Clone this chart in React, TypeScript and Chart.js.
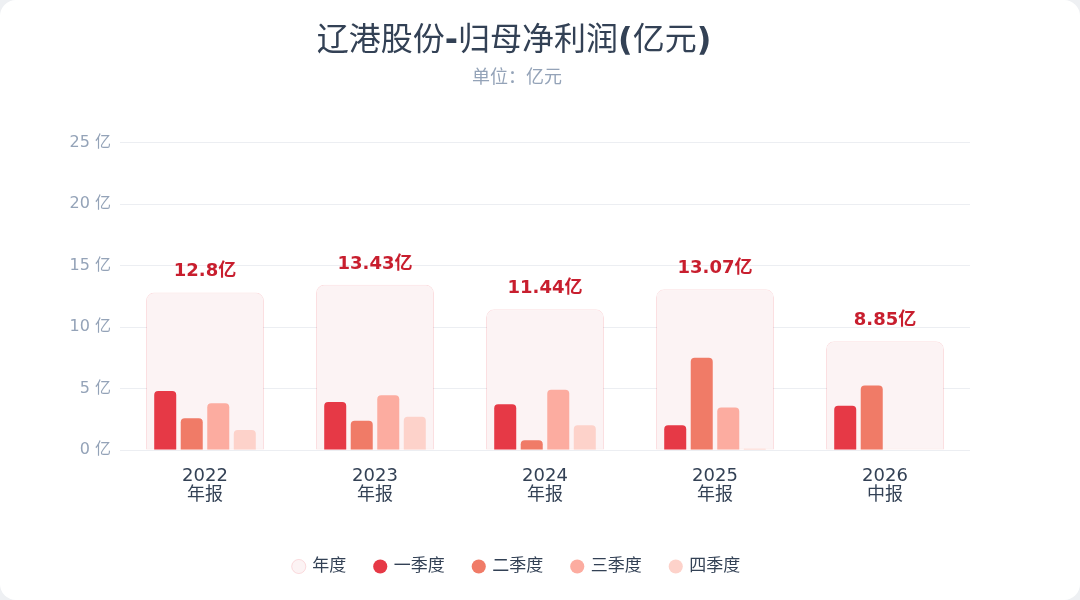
import { useRef, useEffect } from "react";
import Chart from "chart.js/auto";
import type { Chart as ChartJS, Plugin } from "chart.js";

const categories = [["2022", "年报"], ["2023", "年报"], ["2024", "年报"], ["2025", "年报"], ["2026", "中报"]];
const annual = [12.8, 13.43, 11.44, 13.07, 8.85];
const q1 = [4.8, 3.9, 3.72, 2.02, 3.6];
const q2 = [2.58, 2.38, 0.8, 7.5, 5.25];
const q3 = [3.8, 4.45, 4.9, 3.45, null];
const q4 = [1.62, 2.7, 2.02, 0.1, null];
const yTicks = [0, 5, 10, 15, 20, 25];

const FONT = "'DejaVu Sans', 'Noto Sans CJK SC', sans-serif";

// title pieces: latin punctuation is heavier than the CJK glyphs in the original
const titleParts: [string, boolean][] = [
  ["辽港股份", false],
  ["-", true],
  ["归母净利润", false],
  ["(", true],
  ["亿元", false],
  [")", true],
];

const titleDraw: Plugin<"bar"> = {
  id: "titleDraw",
  afterDraw(chart) {
    const ctx = chart.ctx;
    ctx.save();
    ctx.fillStyle = "#334155";
    ctx.textBaseline = "middle";
    ctx.textAlign = "left";
    const fontOf = (bold: boolean) => `${bold ? "bold" : "normal"} 32px ${FONT}`;
    let total = 0;
    titleParts.forEach(([t, b]) => {
      ctx.font = fontOf(b);
      total += ctx.measureText(t).width;
    });
    let x = 514 - total / 2;
    titleParts.forEach(([t, b]) => {
      ctx.font = fontOf(b);
      ctx.fillText(t, x, 42);
      x += ctx.measureText(t).width;
    });
    ctx.restore();
  },
};

const valueLabels: Plugin<"bar"> = {
  id: "valueLabels",
  afterDatasetsDraw(chart) {
    const meta = chart.getDatasetMeta(0);
    const ctx = chart.ctx;
    ctx.save();
    ctx.font = `bold 18px ${FONT}`;
    ctx.fillStyle = "#c81e2e";
    ctx.textAlign = "center";
    ctx.textBaseline = "middle";
    meta.data.forEach((el, i) => {
      ctx.fillText(`${annual[i]}亿`, el.x, el.y - 21);
    });
    ctx.restore();
  },
};

export default function App() {
  const canvasRef = useRef<HTMLCanvasElement | null>(null);
  const chartInstance = useRef<ChartJS | null>(null);

  useEffect(() => {
    if (!canvasRef.current) return;
    if (chartInstance.current) chartInstance.current.destroy();

    const quarter = (label: string, data: (number | null)[], color: string) => ({
      label,
      data,
      backgroundColor: color,
      borderRadius: { topLeft: 4, topRight: 4 },
      borderSkipped: "bottom" as const,
      categoryPercentage: 0.624,
      barPercentage: 0.83,
      order: 1,
    });

    chartInstance.current = new Chart(canvasRef.current, {
      type: "bar",
      data: {
        labels: categories,
        datasets: [
          {
            label: "年度",
            data: annual,
            backgroundColor: "#fcf3f4",
            borderColor: "rgba(230,57,70,0.16)",
            borderWidth: 1,
            borderRadius: { topLeft: 8, topRight: 8 },
            borderSkipped: false,
            grouped: false,
            categoryPercentage: 0.694,
            barPercentage: 1,
            order: 2,
          },
          quarter("一季度", q1, "#e63946"),
          quarter("二季度", q2, "#f07b67"),
          quarter("三季度", q3, "#fcaca0"),
          quarter("四季度", q4, "#fdd2ca"),
        ],
      },
      options: {
        responsive: true,
        maintainAspectRatio: false,
        animation: false,
        layout: { padding: { left: 64, right: 110, top: 68, bottom: 15 } },
        plugins: {
          title: { display: false },
          subtitle: {
            display: true,
            text: "单位：亿元",
            color: "#94a3b8",
            font: { family: FONT, size: 18 },
            padding: { top: 0, bottom: 53 },
          },
          legend: {
            position: "bottom",
            labels: {
              sort: (a, b) => (a.datasetIndex ?? 0) - (b.datasetIndex ?? 0),
              usePointStyle: true,
              pointStyle: "circle",
              boxWidth: 10,
              boxHeight: 10,
              padding: 29,
              color: "#334155",
              font: { family: FONT, size: 17 },
            },
          },
          tooltip: { enabled: false },
        },
        scales: {
          x: {
            grid: { display: false },
            border: { display: false },
            ticks: {
              color: "#334155",
              font: { family: FONT, size: 18, lineHeight: 1.05 },
              padding: 9,
            },
            afterFit: (axis) => {
              axis.height = 79;
            },
          },
          y: {
            min: 0,
            max: 25,
            afterBuildTicks: (axis) => {
              axis.ticks = yTicks.map((v) => ({ value: v }));
            },
            grid: { color: "#eceef2", drawTicks: false },
            border: { display: false },
            ticks: {
              color: "#94a3b8",
              font: { family: FONT, size: 16 },
              padding: 9,
              callback: (v) => `${v} 亿`,
            },
            afterFit: (axis) => {
              axis.width = 56;
            },
          },
        },
      },
      plugins: [valueLabels, titleDraw],
    });

    return () => chartInstance.current?.destroy();
  }, []);

  return (
    <div style={{ position: "fixed", left: 0, top: 0, width: 1080, height: 600, background: "#eef0f3" }}>
      <div style={{ width: 1080, height: 600, background: "#ffffff", borderRadius: 16, overflow: "hidden" }}>
        <canvas ref={canvasRef} />
      </div>
    </div>
  );
}
